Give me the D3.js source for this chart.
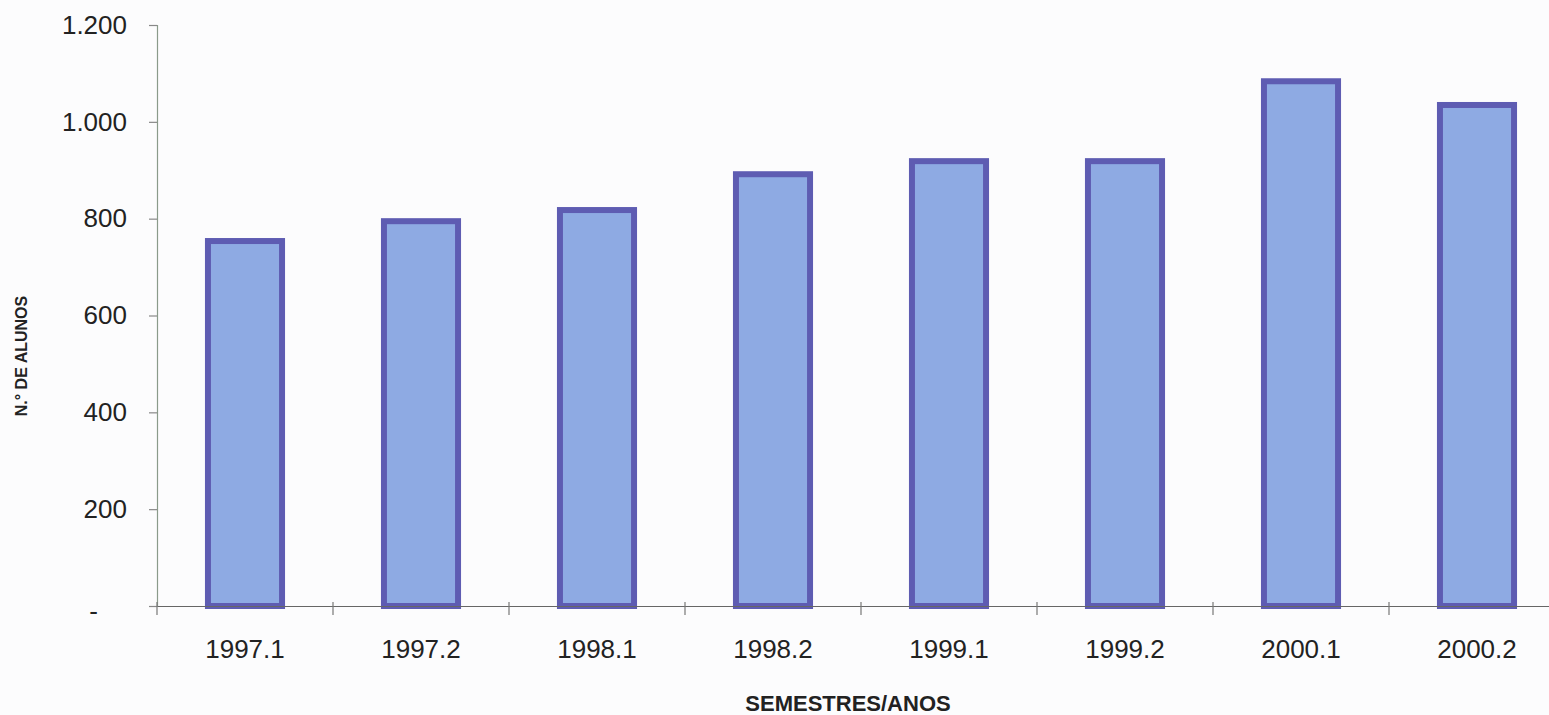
<!DOCTYPE html>
<html><head><meta charset="utf-8">
<script src="https://cdn.jsdelivr.net/npm/d3@7"></script>
<style>
html,body{margin:0;padding:0;background:#fcfcfd;overflow:hidden;}
svg{display:block;}
</style></head>
<body>
<svg id="chart" width="1549" height="715"></svg>
<script>
const categories = ["1997.1","1997.2","1998.1","1998.2","1999.1","1999.2","2000.1","2000.2"];
const values = [760, 801, 824, 898, 925, 925, 1090, 1041];
const yTicks = [0, 200, 400, 600, 800, 1000, 1200];
const yTickLabels = ["-", "200", "400", "600", "800", "1.000", "1.200"];
const yTitle = "N.° DE ALUNOS";
const xTitle = "SEMESTRES/ANOS";

const svg = d3.select("#chart");
const W = 1549, H = 715;
svg.append("rect").attr("width", W).attr("height", H).attr("fill", "#fcfcfd");

const x = d3.scaleBand().domain(categories).range([157, 1565])
  .paddingInner(0.545).paddingOuter(0.2725);
const y = d3.scaleLinear().domain([0, 1200]).range([606, 25]);

const font = "'Liberation Sans', Arial, sans-serif";
const sw = 6;

// bars
svg.append("g").selectAll("rect").data(values).join("rect")
  .attr("x", (d, i) => x(categories[i]) + sw / 2)
  .attr("y", d => y(d) + sw / 2)
  .attr("width", x.bandwidth() - sw)
  .attr("height", d => y(0) - y(d) - sw / 2)
  .attr("fill", "#8eaae3")
  .attr("stroke", "#5e5cb2")
  .attr("stroke-width", sw);

// y axis
const yAxis = d3.axisLeft(y).tickValues(yTicks)
  .tickFormat((d, i) => yTickLabels[i]).tickSize(8).tickPadding(22);
const gy = svg.append("g").attr("transform", "translate(157,0)").call(yAxis);
gy.select(".domain").attr("stroke", "#8a9a8a").attr("stroke-width", 1.2);
gy.selectAll(".tick line").attr("stroke", "#888").attr("stroke-width", 1.2);
gy.selectAll(".tick text").attr("font-family", font).attr("font-size", 26).attr("fill", "#222");
gy.selectAll(".tick").filter(d => d === 0).select("text")
  .attr("dx", -29).attr("dy", "0.5em");

// x axis
const xAxis = d3.axisBottom(x).tickSize(0).tickPadding(34);
const gx = svg.append("g").attr("transform", "translate(0,606)").call(xAxis);
gx.select(".domain").attr("stroke", "#666").attr("stroke-width", 1.2);
gx.selectAll(".tick text").attr("font-family", font).attr("font-size", 26).attr("fill", "#222");
// category separator ticks
const seps = categories.map((c, i) => x(c) - x.step() * 0.2725);
gx.append("g").selectAll("line").data(seps).join("line")
  .attr("x1", d => d).attr("x2", d => d)
  .attr("y1", -4).attr("y2", 9)
  .attr("stroke", "#777").attr("stroke-width", 1.2);

// titles
svg.append("text").attr("x", 848).attr("y", 711).attr("text-anchor", "middle")
  .attr("font-family", font).attr("font-weight", "bold").attr("font-size", 22)
  .attr("fill", "#222").text(xTitle);
svg.append("text").attr("transform", "translate(27,356) rotate(-90)")
  .attr("text-anchor", "middle")
  .attr("font-family", font).attr("font-weight", "bold").attr("font-size", 16)
  .attr("fill", "#222").text(yTitle);
</script>
</body></html>
